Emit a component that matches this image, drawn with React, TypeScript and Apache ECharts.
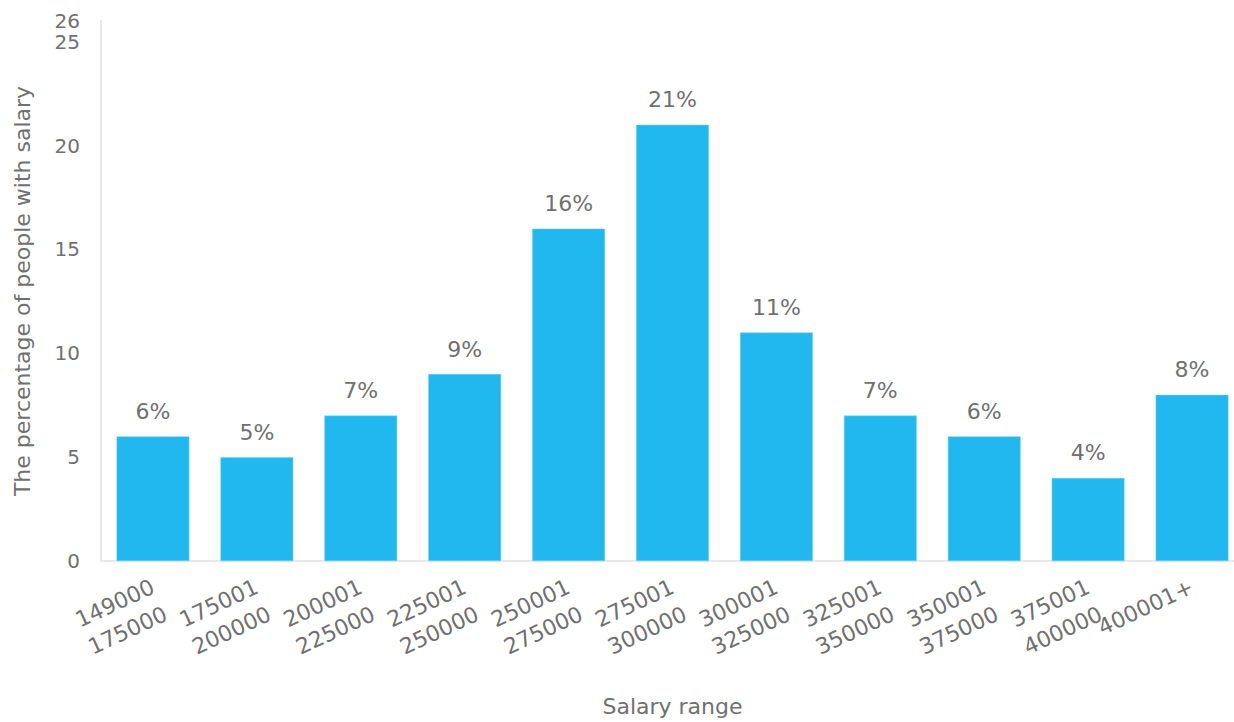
import React, { useEffect, useRef } from "react";
import * as echarts from "echarts";

const categories = [
  "149000\n175000",
  "175001\n200000",
  "200001\n225000",
  "225001\n250000",
  "250001\n275000",
  "275001\n300000",
  "300001\n325000",
  "325001\n350000",
  "350001\n375000",
  "375001\n400000",
  "400001+",
];
const values = [6, 5, 7, 9, 16, 21, 11, 7, 6, 4, 8];
const yMax = 26;

const FONT = "DejaVu Sans";
const TEXT = "#707070";

export default function App() {
  const ref = useRef<HTMLDivElement>(null);
  useEffect(() => {
    if (!ref.current) return;
    const chart = echarts.init(ref.current, undefined, { renderer: "svg" });
    const yLabel = {
      color: TEXT,
      fontSize: 20,
      lineHeight: 18,
      fontFamily: FONT,
      margin: 21,
    };
    chart.setOption({
      animation: false,
      textStyle: { fontFamily: FONT },
      grid: { left: 101, right: 6, top: 21, bottom: 160, containLabel: false },
      xAxis: {
        type: "category",
        data: categories,
        name: "Salary range",
        nameLocation: "middle",
        nameGap: 134,
        nameTextStyle: { color: TEXT, fontSize: 22, fontFamily: FONT },
        axisLine: { lineStyle: { color: "#e8e8e8", width: 2 } },
        axisTick: { show: false },
        axisLabel: {
          color: TEXT,
          fontSize: 22,
          rotate: 25,
          interval: 0,
          margin: 8,
          lineHeight: 30,
          verticalAlign: "top",
          padding: [0, 7, 0, 0],
          fontFamily: FONT,
        },
      },
      yAxis: [
        {
          type: "value",
          min: 0,
          max: yMax,
          interval: 5,
          name: "The percentage of people with salary",
          nameLocation: "middle",
          nameGap: 68,
          nameTextStyle: { color: TEXT, fontSize: 22, fontFamily: FONT },
          axisLine: { show: true, lineStyle: { color: "#e8e8e8", width: 2 } },
          axisTick: { show: false },
          splitLine: { show: false },
          axisLabel: { ...yLabel, showMaxLabel: false, showMinLabel: true },
        },
        {
          type: "value",
          position: "left",
          min: 0,
          max: yMax,
          interval: 5,
          axisLine: { show: false },
          axisTick: { show: false },
          splitLine: { show: false },
          axisLabel: {
            ...yLabel,
            showMaxLabel: true,
            formatter: (v: number) => (v === yMax ? String(yMax) : ""),
          },
        },
      ],
      series: [
        {
          type: "bar",
          data: values,
          yAxisIndex: 0,
          barCategoryGap: "30%",
          itemStyle: { color: "#20b8ef", borderColor: "#6fd0f5", borderWidth: 0.5 },
          label: {
            show: true,
            position: "top",
            distance: 14,
            formatter: "{c}%",
            color: TEXT,
            fontSize: 22,
            fontFamily: FONT,
          },
        },
      ],
    });
    return () => chart.dispose();
  }, []);
  return (
    <div style={{ position: "absolute", left: 0, top: 0, width: 1234, height: 722, overflow: "hidden" }}>
      <div ref={ref} style={{ width: 1250, height: 722 }} />
    </div>
  );
}
